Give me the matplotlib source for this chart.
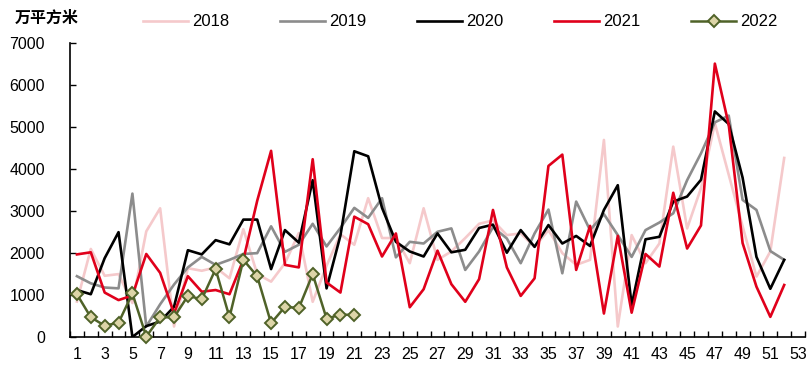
import matplotlib
matplotlib.use("Agg")
import matplotlib.pyplot as plt
import numpy as np
from matplotlib.ticker import FixedLocator

plt.rcParams['font.family'] = ['Liberation Sans', 'DejaVu Sans']

weeks = list(range(1, 53))
weeks_2022 = list(range(1, 22))

s2018 = [845, 2100, 1460, 1500, 810, 2520, 3070, 250, 1640, 1580, 1660, 1400, 2570, 1500,
         1320, 1760, 2480, 840, 1700, 2450, 2200, 3310, 2360, 2360, 1760, 3070, 1840, 2040,
         2360, 2700, 2780, 2430, 2470, 2150, 2550, 2000, 1720, 1840, 4700, 250, 2430, 1760,
         2230, 4540, 2590, 3550, 5100, 3870, 2640, 1440, 2040, 4270]
s2019 = [1450, 1280, 1180, 1160, 3420, 250, 780, 1250, 1660, 1910, 1720, 1840, 1980, 2000,
         2640, 2030, 2200, 2700, 2160, 2600, 3080, 2840, 3310, 1900, 2270, 2230, 2510, 2590,
         1600, 2040, 2620, 2350, 1760, 2470, 3040, 1520, 3230, 2550, 2930, 2430, 1910, 2550,
         2730, 2950, 3740, 4380, 5120, 5280, 3270, 3030, 2050, 1840]
s2020 = [1120, 1020, 1880, 2500, 0, 260, 370, 720, 2070, 1970, 2310, 2210, 2800, 2800,
         1620, 2550, 2250, 3740, 1160, 2420, 4430, 4310, 3080, 2270, 2040, 1920, 2470, 2020,
         2080, 2600, 2680, 2010, 2550, 2150, 2670, 2230, 2410, 2170, 3030, 3620, 760, 2330,
         2390, 3230, 3350, 3750, 5380, 5080, 3800, 1910, 1150, 1840]
s2021 = [1970, 2020, 1060, 880, 990, 1980, 1530, 560, 1450, 1080, 1120, 1020, 1840, 3250,
         4440, 1720, 1660, 4240, 1300, 1060, 2870, 2690, 1920, 2470, 710, 1140, 2060, 1260,
         840, 1380, 3030, 1660, 980, 1400, 4080, 4350, 1600, 2650, 560, 2410, 580, 1980,
         1680, 3440, 2110, 2660, 6520, 5060, 2240, 1200, 480, 1240]
s2022 = [1020, 470, 270, 340, 1040, 10, 470, 470, 980, 900, 1620, 470, 1840, 1450, 330,
         720, 690, 1500, 440, 530, 530]

xtick_labels = [str(i) for i in range(1, 54, 2)]
ytick_vals = list(range(0, 7001, 1000))

fig = plt.figure(figsize=(8.08, 3.65), dpi=100)
ax = fig.add_axes([70/808, 1-337/365, 735/808, (337-43.5)/365])

lw = 1.9
h1, = ax.plot(weeks, s2018, color='#f5c9cb', lw=lw, label='2018', zorder=2)
h2, = ax.plot(weeks, s2019, color='#8c8c8c', lw=lw, label='2019', zorder=3)
h3, = ax.plot(weeks, s2020, color='#000000', lw=lw, label='2020', zorder=4)
h4, = ax.plot(weeks, s2021, color='#e0001b', lw=lw, label='2021', zorder=5)
h5, = ax.plot(weeks_2022, s2022, color='#4f6228', lw=1.8, marker='D', markersize=6.5,
              markerfacecolor='#ddd5a8', markeredgecolor='#4f6228', markeredgewidth=1.4,
              label='2022', zorder=6, clip_on=False)

ax.set_xlim(0.5, 53.5)
ax.set_ylim(0, 7000)

ax.xaxis.set_major_locator(FixedLocator(list(range(1, 54, 2))))
ax.set_xticklabels(xtick_labels)
ax.xaxis.set_minor_locator(FixedLocator(list(np.arange(0.5, 54, 1.0))))
ax.tick_params(axis='x', which='major', length=0, pad=7, labelsize=11.5)
ax.tick_params(axis='x', which='minor', direction='in', length=4, width=1)

ax.set_yticks(ytick_vals)
ax.set_yticklabels([str(v) for v in ytick_vals])
ax.tick_params(axis='y', which='major', direction='in', length=4, width=1, pad=18, labelsize=11.5)

for s in ['top', 'right']:
    ax.spines[s].set_visible(False)
for s in ['left', 'bottom']:
    ax.spines[s].set_linewidth(1.2)

fig.text(15/808, 1-18/365, '万平方米', fontsize=11.5, fontweight='bold',
         family=['Noto Sans CJK SC', 'DejaVu Sans'], va='center', ha='left')

legend_x = [143, 280, 417, 554, 691]
for h, lx in zip([h1, h2, h3, h4, h5], legend_x):
    fig.legend(handles=[h], loc='center left', bbox_to_anchor=(lx/808, 1-22/365),
               frameon=False, borderpad=0, borderaxespad=0, handlelength=2.7,
               handletextpad=0.25, prop={'size': 12})

fig.savefig('out.png', dpi=100)
